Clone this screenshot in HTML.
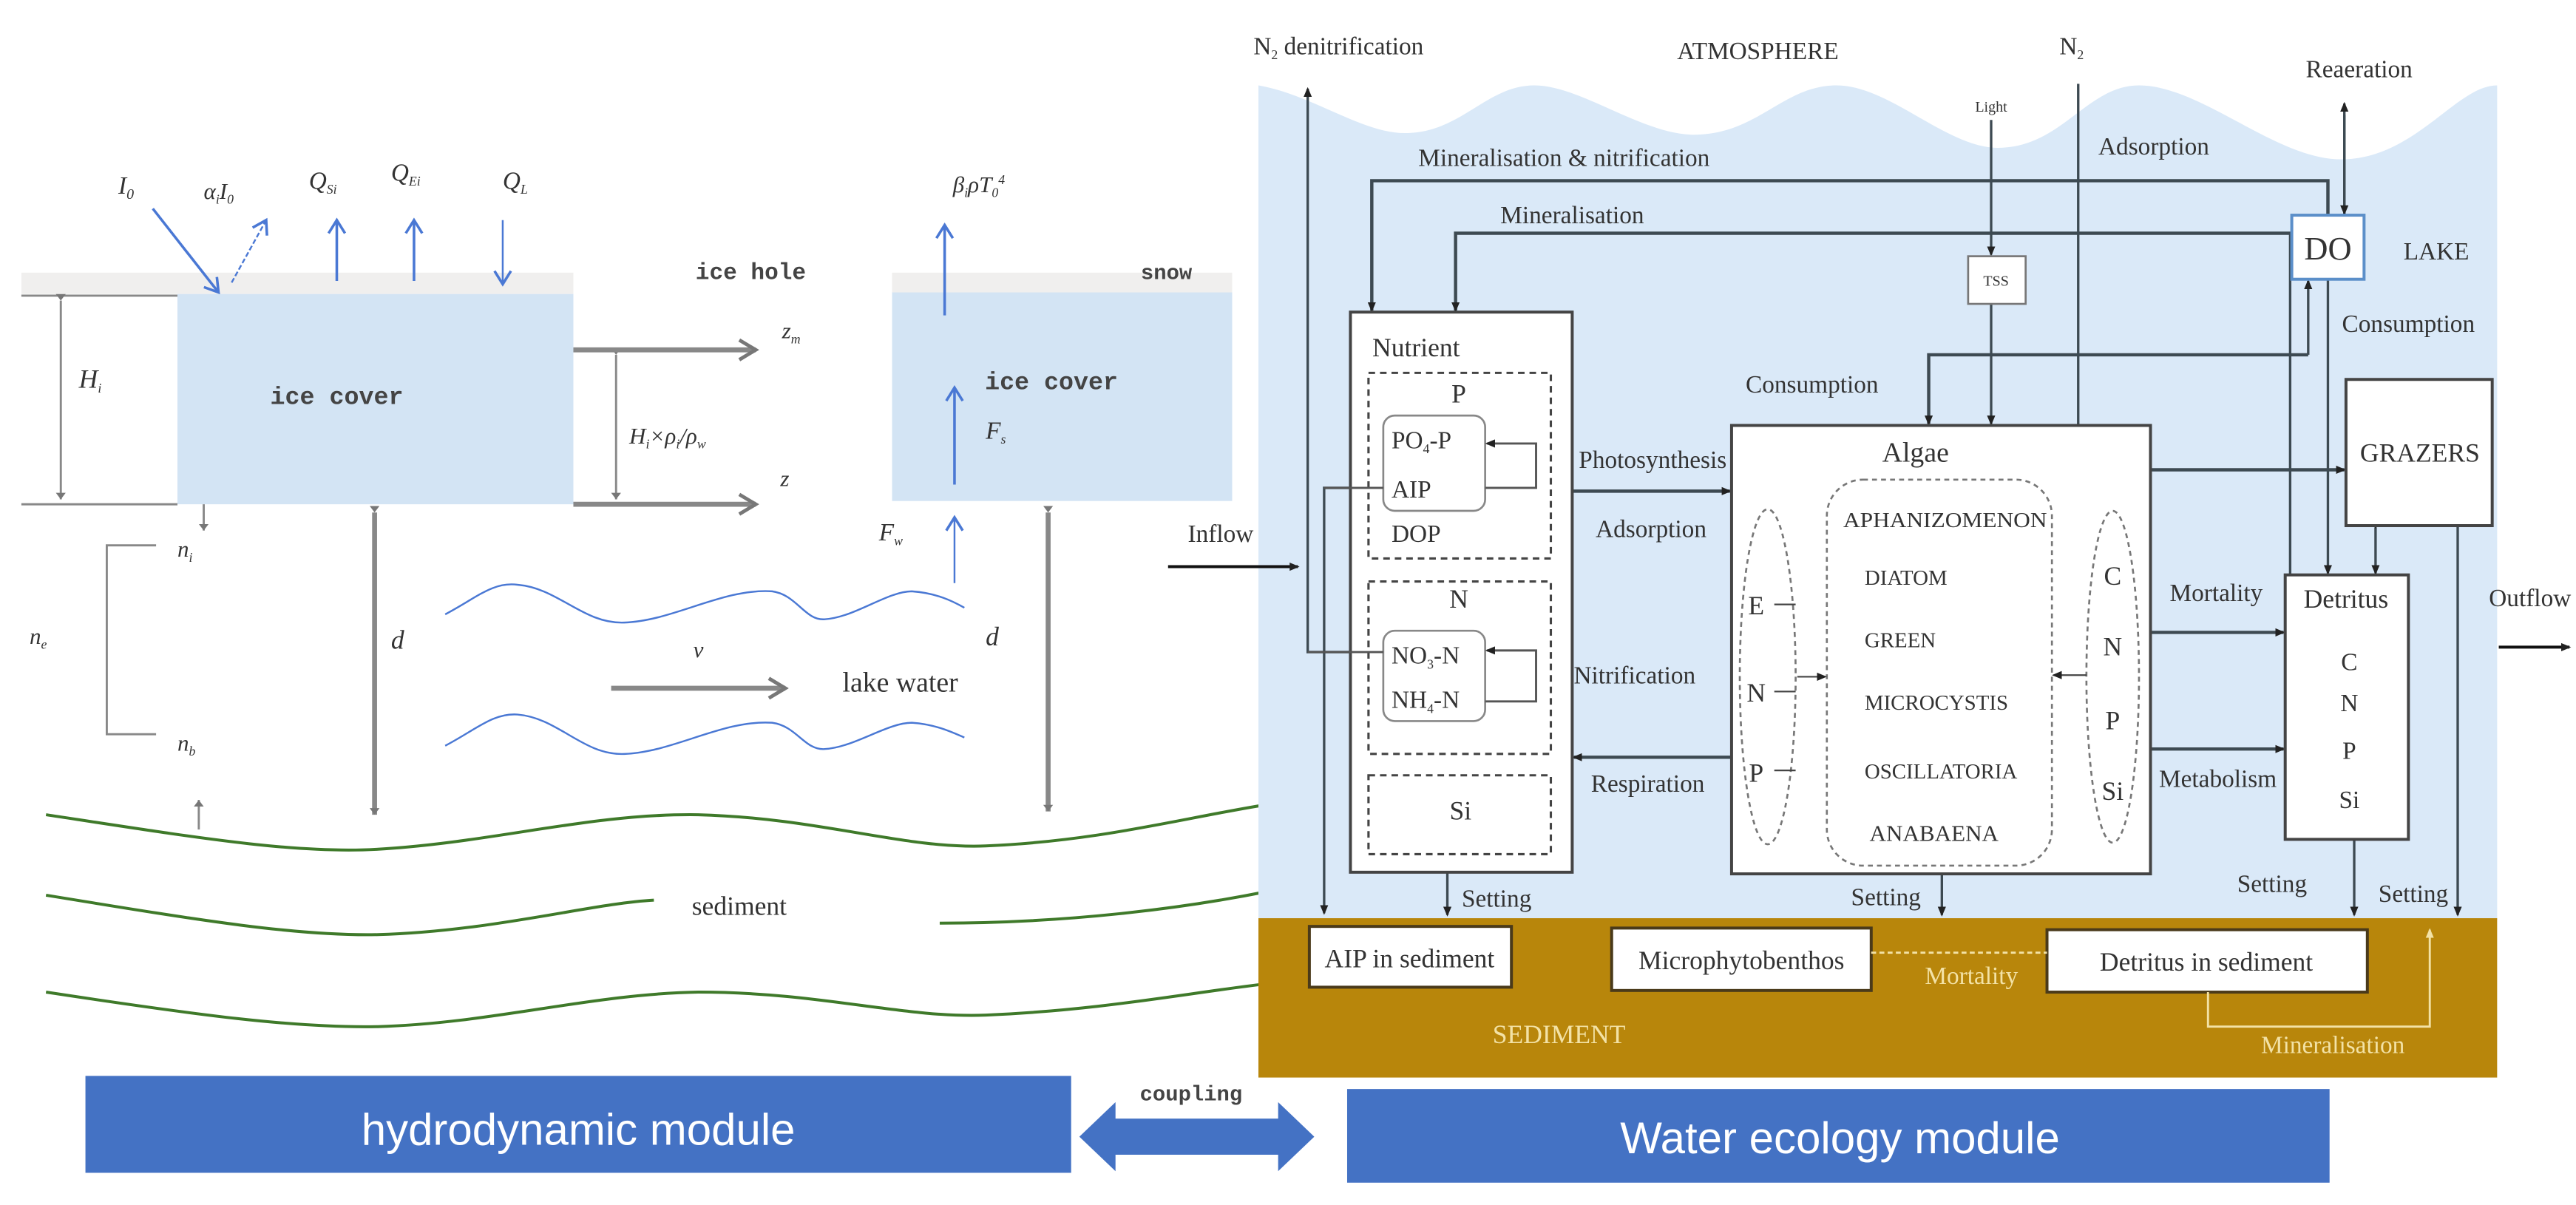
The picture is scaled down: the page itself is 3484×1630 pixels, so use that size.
<!DOCTYPE html>
<html><head><meta charset="utf-8"><style>
html,body{margin:0;padding:0;background:#fff;}
svg{display:block;}
text{font-family:"Liberation Serif",serif;fill:#333;}
.s{font-family:"Liberation Sans",sans-serif;}
.m{font-family:"Liberation Mono",monospace;font-weight:bold;fill:#444;}
.i{font-style:italic;fill:#333;}
</style></head><body>
<svg width="3484" height="1630" viewBox="0 0 1568 733.6" xmlns="http://www.w3.org/2000/svg">
<defs>
<marker id="a" markerWidth="6" markerHeight="6" refX="5" refY="3" orient="auto" markerUnits="userSpaceOnUse"><path d="M0,0.5 L6,3 L0,5.5 z" fill="#222"/></marker>
<marker id="g" markerWidth="14" markerHeight="14" refX="12" refY="7" orient="auto" markerUnits="userSpaceOnUse"><path d="M2,1 L12,7 L2,13" fill="none" stroke="#777" stroke-width="2.2"/></marker>
<marker id="gs" markerWidth="8" markerHeight="8" refX="4" refY="4" orient="auto" markerUnits="userSpaceOnUse"><path d="M0,1 L4,4 L0,7 z" fill="#777"/></marker>
<marker id="b" markerWidth="12" markerHeight="12" refX="10" refY="6" orient="auto" markerUnits="userSpaceOnUse"><path d="M2,1 L10,6 L2,11" fill="none" stroke="#4a78d4" stroke-width="1.6"/></marker>
<marker id="w" markerWidth="6" markerHeight="6" refX="5" refY="3" orient="auto" markerUnits="userSpaceOnUse"><path d="M0,0.5 L6,3 L0,5.5 z" fill="#f3e2a6"/></marker>
</defs>

<!-- LEFT: hydrodynamic -->
<rect x="13" y="166" width="336" height="13" fill="#f0efee"/>
<rect x="543" y="166" width="207" height="12" fill="#f0efee"/>
<rect x="108" y="179" width="241" height="128" fill="#d3e4f4"/>
<rect x="543" y="178" width="207" height="127" fill="#d3e4f4"/>
<g stroke="#888" stroke-width="1.3">
<line x1="13" y1="180" x2="108" y2="180"/><line x1="13" y1="307" x2="108" y2="307"/>
<line x1="37" y1="183" x2="37" y2="304" marker-start="url(#gs)" marker-end="url(#gs)"/>
<line x1="375" y1="216" x2="375" y2="304" marker-start="url(#gs)" marker-end="url(#gs)"/>
<polyline points="95,332 65,332 65,447 95,447" fill="none"/>
<line x1="124" y1="307" x2="124" y2="323" marker-end="url(#gs)"/>
<line x1="121" y1="505" x2="121" y2="487" marker-end="url(#gs)"/>
</g>
<g stroke="#888" stroke-width="3">
<line x1="349" y1="213" x2="460" y2="213" marker-end="url(#g)"/>
<line x1="349" y1="307" x2="460" y2="307" marker-end="url(#g)"/>
<line x1="372" y1="419" x2="478" y2="419" marker-end="url(#g)"/>
<line x1="228" y1="312" x2="228" y2="496" marker-start="url(#gs)" marker-end="url(#gs)"/>
<line x1="638" y1="312" x2="638" y2="494" marker-start="url(#gs)" marker-end="url(#gs)"/>
</g>
<g stroke="#4a78d4" stroke-width="1.6" fill="none">
<line x1="93" y1="127" x2="133" y2="178" marker-end="url(#b)"/>
<line x1="141" y1="172" x2="162" y2="134" stroke-dasharray="3,1.5" stroke-width="1.1" marker-end="url(#b)"/>
<line x1="205" y1="171" x2="205" y2="134" marker-end="url(#b)"/>
<line x1="252" y1="171" x2="252" y2="134" marker-end="url(#b)"/>
<line x1="306" y1="134" x2="306" y2="173" stroke-width="1.1" marker-end="url(#b)"/>
<line x1="575" y1="192" x2="575" y2="137" marker-end="url(#b)"/>
<line x1="581" y1="295" x2="581" y2="236" marker-end="url(#b)"/>
<line x1="581" y1="355" x2="581" y2="315" stroke-width="1.1" marker-end="url(#b)"/>
<path d="M271,374 C290,364 300,354 315,356 C340,358 355,380 380,379 C410,378 440,358 470,360 C485,362 490,378 502,377 C520,376 540,360 555,360 C570,361 580,366 587,370" stroke-width="1.1"/>
<path d="M271,454 C290,444 300,434 315,435 C340,437 355,460 380,459 C410,458 440,438 470,440 C485,442 490,457 502,456 C520,455 540,440 555,440 C570,441 580,446 587,449" stroke-width="1.1"/>
</g>
<g stroke="#3f7a2a" stroke-width="1.8" fill="none">
<path d="M28,496 C120,510 180,520 230,517 C300,513 360,495 425,496 C500,498 550,517 600,515 C670,512 720,498 770,490"/>
<path d="M28,545 C120,560 180,570 230,569 C300,567 360,550 398,548"/>
<path d="M572,562 C650,562 720,553 770,543"/>
<path d="M28,604 C120,618 180,626 230,625 C300,623 360,605 425,604 C500,604 550,620 600,618 C670,615 720,605 770,599"/>
</g>
<text x="72" y="118" class="i" font-size="15">I<tspan font-size="9" dy="3">0</tspan></text>
<text x="124" y="121" class="i" font-size="14">α<tspan font-size="8" dy="3">i</tspan><tspan dy="-3">I</tspan><tspan font-size="8" dy="3">0</tspan></text>
<text x="188" y="115" class="i" font-size="15">Q<tspan font-size="8" dy="3">Si</tspan></text>
<text x="238" y="110" class="i" font-size="15">Q<tspan font-size="8" dy="3">Ei</tspan></text>
<text x="306" y="115" class="i" font-size="15">Q<tspan font-size="8" dy="3">L</tspan></text>
<text x="580" y="117" class="i" font-size="14">β<tspan font-size="8" dy="3">i</tspan><tspan dy="-3">ρT</tspan><tspan font-size="8" dy="3">0</tspan><tspan font-size="8" dy="-8">4</tspan></text>
<text x="48" y="236" class="i" font-size="16">H<tspan font-size="8" dy="3">i</tspan></text>
<text x="205" y="246" class="m" font-size="15" text-anchor="middle">ice cover</text>
<text x="640" y="237" class="m" font-size="15" text-anchor="middle">ice cover</text>
<text x="457" y="170" class="m" font-size="14" text-anchor="middle">ice hole</text>
<text x="710" y="170" class="m" font-size="13" text-anchor="middle">snow</text>
<text x="476" y="206" class="i" font-size="14">z<tspan font-size="8" dy="3">m</tspan></text>
<text x="475" y="296" class="i" font-size="14">z</text>
<text x="383" y="270" class="i" font-size="14">H<tspan font-size="8" dy="3">i</tspan><tspan dy="-3">×ρ</tspan><tspan font-size="8" dy="3">i</tspan><tspan dy="-3">/ρ</tspan><tspan font-size="8" dy="3">w</tspan></text>
<text x="600" y="267" class="i" font-size="15">F<tspan font-size="8" dy="3">s</tspan></text>
<text x="535" y="329" class="i" font-size="15">F<tspan font-size="8" dy="3">w</tspan></text>
<text x="108" y="339" class="i" font-size="14">n<tspan font-size="8" dy="3">i</tspan></text>
<text x="18" y="392" class="i" font-size="14">n<tspan font-size="8" dy="3">e</tspan></text>
<text x="108" y="457" class="i" font-size="14">n<tspan font-size="8" dy="3">b</tspan></text>
<text x="238" y="395" class="i" font-size="16">d</text>
<text x="600" y="393" class="i" font-size="16">d</text>
<text x="422" y="400" class="i" font-size="14">v</text>
<text x="548" y="421" font-size="17" text-anchor="middle">lake water</text>
<text x="450" y="557" font-size="16" text-anchor="middle">sediment</text>

<!-- bars -->
<rect x="52" y="655" width="600" height="59" fill="#4472c4"/>
<text x="352" y="697" class="s" font-size="27" fill="#fff" style="fill:#fff" text-anchor="middle">hydrodynamic module</text>
<rect x="820" y="663" width="598" height="57" fill="#4472c4"/>
<text x="1120" y="702" class="s" font-size="27" style="fill:#fff" text-anchor="middle">Water ecology module</text>
<polygon points="657,692 679,671 679,681 778,681 778,671 800,692 778,713 778,703 679,703 679,713" fill="#4472c4"/>
<text x="725" y="670" class="m" font-size="13" text-anchor="middle">coupling</text>

<!-- RIGHT: lake -->
<path d="M766,52 C800,58 830,82 857,81 C890,80 905,52 934,52 C962,52 1000,82 1031,82 C1070,82 1085,52 1118,52 C1150,52 1185,90 1216,90 C1255,90 1270,52 1302,52 C1340,52 1385,97 1425,97 C1470,97 1495,52 1520,52 L1520,560 L766,560 z" fill="#dae9f8"/>
<rect x="766" y="559" width="754" height="97" fill="#b8860b"/>

<g stroke="#3d4a52" stroke-width="1.5" fill="none">
<!-- denitrification -->
<polyline points="842,397 796,397 796,54" marker-end="url(#a)"/>
<polyline points="842,297 806,297 806,556" marker-end="url(#a)"/>
<line x1="711" y1="345" x2="790" y2="345" stroke="#111" stroke-width="1.8" marker-end="url(#a)"/>
<!-- mineralisation lines -->
<polyline points="1417,131 1417,110 835,110 835,189" stroke-width="2" marker-end="url(#a)"/>
<polyline points="1395,142 886,142 886,189" stroke-width="2" marker-end="url(#a)"/>
<line x1="1394" y1="142" x2="1394" y2="350"/>
<line x1="1417" y1="170" x2="1417" y2="349" marker-end="url(#a)"/>
<line x1="1427" y1="131" x2="1427" y2="63" marker-end="url(#a)"/>
<line x1="1427" y1="70" x2="1427" y2="130" marker-end="url(#a)"/>
<polyline points="1405,216 1174,216 1174,258" stroke-width="2" marker-end="url(#a)"/>
<line x1="1405" y1="216" x2="1405" y2="171" marker-end="url(#a)"/>
<!-- light / N2 -->
<line x1="1212" y1="73" x2="1212" y2="155" marker-end="url(#a)"/>
<line x1="1212" y1="185" x2="1212" y2="258" marker-end="url(#a)"/>
<polyline points="1265,51 1265,331 1252,331" marker-end="url(#a)"/>
<!-- flows -->
<line x1="957" y1="299" x2="1053" y2="299" stroke-width="2" marker-end="url(#a)"/>
<line x1="1054" y1="461" x2="958" y2="461" stroke-width="2" marker-end="url(#a)"/>
<line x1="1309" y1="286" x2="1427" y2="286" stroke-width="2" marker-end="url(#a)"/>
<line x1="1309" y1="385" x2="1390" y2="385" stroke-width="2" marker-end="url(#a)"/>
<line x1="1309" y1="456" x2="1390" y2="456" stroke-width="2" marker-end="url(#a)"/>
<line x1="1446" y1="321" x2="1446" y2="349" marker-start="url(#a)" marker-end="url(#a)"/>
<!-- settling -->
<line x1="881" y1="531" x2="881" y2="557" marker-end="url(#a)"/>
<line x1="1182" y1="532" x2="1182" y2="557" marker-end="url(#a)"/>
<line x1="1433" y1="511" x2="1433" y2="557" marker-end="url(#a)"/>
<line x1="1496" y1="320" x2="1496" y2="557" marker-end="url(#a)"/>
<line x1="1521" y1="394" x2="1564" y2="394" stroke="#111" stroke-width="1.8" marker-end="url(#a)"/>
</g>

<!-- boxes -->
<rect x="822" y="190" width="135" height="341" fill="#fff" stroke="#444" stroke-width="1.8"/>
<g fill="none" stroke="#444" stroke-width="1.4" stroke-dasharray="4,3">
<rect x="833" y="227" width="111" height="113"/>
<rect x="833" y="354" width="111" height="105"/>
<rect x="833" y="472" width="111" height="48"/>
</g>
<rect x="842" y="253" width="62" height="58" rx="7" fill="#fff" stroke="#888" stroke-width="1.2"/>
<rect x="842" y="384" width="62" height="55" rx="7" fill="#fff" stroke="#888" stroke-width="1.2"/>
<g fill="none" stroke="#555" stroke-width="1.3">
<polyline points="904,297 935,297 935,270 905,270" marker-end="url(#a)"/>
<polyline points="904,427 935,427 935,396 905,396" marker-end="url(#a)"/>
<line x1="806" y1="297" x2="842" y2="297"/>
<line x1="796" y1="397" x2="842" y2="397"/>
</g>
<text x="862" y="217" font-size="16" text-anchor="middle">Nutrient</text>
<text x="888" y="245" font-size="16" text-anchor="middle">P</text>
<text x="847" y="273" font-size="15">PO<tspan font-size="8" dy="3">4</tspan><tspan dy="-3">-P</tspan></text>
<text x="847" y="303" font-size="15">AIP</text>
<text x="847" y="330" font-size="15">DOP</text>
<text x="888" y="370" font-size="16" text-anchor="middle">N</text>
<text x="847" y="404" font-size="15">NO<tspan font-size="8" dy="3">3</tspan><tspan dy="-3">-N</tspan></text>
<text x="847" y="431" font-size="15">NH<tspan font-size="8" dy="3">4</tspan><tspan dy="-3">-N</tspan></text>
<text x="889" y="499" font-size="16" text-anchor="middle">Si</text>

<rect x="1054" y="259" width="255" height="273" fill="#fff" stroke="#444" stroke-width="1.8"/>
<g fill="none" stroke="#777" stroke-width="1.2" stroke-dasharray="3,2.5">
<rect x="1112" y="292" width="137" height="235" rx="22"/>
<ellipse cx="1076" cy="412" rx="17" ry="102"/>
<ellipse cx="1286" cy="412" rx="16" ry="101"/>
</g>
<g stroke="#444" stroke-width="1" fill="none">
<line x1="1080" y1="368" x2="1093" y2="368"/><line x1="1080" y1="421" x2="1093" y2="421"/><line x1="1080" y1="469" x2="1093" y2="469"/>
<line x1="1094" y1="412" x2="1111" y2="412" marker-end="url(#a)"/>
<line x1="1270" y1="411" x2="1250" y2="411" marker-end="url(#a)"/>
</g>
<text x="1166" y="281" font-size="17" text-anchor="middle">Algae</text>
<g font-size="13">
<text x="1122" y="321" textLength="124" lengthAdjust="spacingAndGlyphs">APHANIZOMENON</text>
<text x="1135" y="356">DIATOM</text>
<text x="1135" y="394">GREEN</text>
<text x="1135" y="432">MICROCYSTIS</text>
<text x="1135" y="474">OSCILLATORIA</text>
<text x="1138" y="512" font-size="14">ANABAENA</text>
</g>
<g font-size="16" text-anchor="middle">
<text x="1069" y="374">E</text><text x="1069" y="427">N</text><text x="1069" y="476">P</text>
<text x="1286" y="356">C</text><text x="1286" y="399">N</text><text x="1286" y="444">P</text><text x="1286" y="487">Si</text>
</g>

<rect x="1391" y="350" width="75" height="161" fill="#fff" stroke="#444" stroke-width="1.8"/>
<text x="1428" y="370" font-size="16" text-anchor="middle">Detritus</text>
<g font-size="15" text-anchor="middle"><text x="1430" y="408">C</text><text x="1430" y="433">N</text><text x="1430" y="462">P</text><text x="1430" y="492">Si</text></g>
<rect x="1428" y="231" width="89" height="89" fill="#fff" stroke="#444" stroke-width="1.8"/>
<text x="1473" y="281" font-size="16" text-anchor="middle">GRAZERS</text>
<rect x="1395" y="131" width="44" height="39" fill="#fff" stroke="#5b8fc9" stroke-width="1.8"/>
<text x="1417" y="158" font-size="20" text-anchor="middle">DO</text>
<rect x="1198" y="156" width="35" height="29" fill="#fff" stroke="#777" stroke-width="1.2"/>
<text x="1215" y="174" font-size="9" text-anchor="middle">TSS</text>

<!-- sediment -->
<rect x="797" y="564" width="123" height="37" fill="#fff" stroke="#4a3a1a" stroke-width="1.8"/>
<rect x="981" y="565" width="158" height="38" fill="#fff" stroke="#4a3a1a" stroke-width="1.8"/>
<rect x="1246" y="566" width="195" height="38" fill="#fff" stroke="#4a3a1a" stroke-width="1.8"/>
<text x="858" y="589" font-size="16" text-anchor="middle">AIP in sediment</text>
<text x="1060" y="590" font-size="16" text-anchor="middle">Microphytobenthos</text>
<text x="1343" y="591" font-size="16" text-anchor="middle">Detritus in sediment</text>
<line x1="1139" y1="580" x2="1246" y2="580" stroke="#f3e2a6" stroke-width="1.3" stroke-dasharray="3,2"/>
<polyline points="1344,604 1344,625 1479,625 1479,566" fill="none" stroke="#f3e2a6" stroke-width="1.3" marker-end="url(#w)"/>
<text x="1200" y="599" font-size="15" text-anchor="middle" style="fill:#f3e2a6">Mortality</text>
<text x="1420" y="641" font-size="15" text-anchor="middle" style="fill:#f3e2a6">Mineralisation</text>
<text x="949" y="635" font-size="16" text-anchor="middle" style="fill:#f3e2a6">SEDIMENT</text>

<!-- labels -->
<g font-size="15">
<text x="763" y="33">N<tspan font-size="8" dy="3">2</tspan><tspan dy="-3"> denitrification</tspan></text>
<text x="1070" y="36" text-anchor="middle">ATMOSPHERE</text>
<text x="1261" y="33" text-anchor="middle">N<tspan font-size="8" dy="3">2</tspan></text>
<text x="1436" y="47" text-anchor="middle">Reaeration</text>
<text x="1212" y="68" font-size="9" text-anchor="middle">Light</text>
<text x="1311" y="94" text-anchor="middle">Adsorption</text>
<text x="952" y="101" text-anchor="middle">Mineralisation &amp; nitrification</text>
<text x="957" y="136" text-anchor="middle">Mineralisation</text>
<text x="1483" y="158" text-anchor="middle">LAKE</text>
<text x="1466" y="202" text-anchor="middle">Consumption</text>
<text x="1103" y="239" text-anchor="middle">Consumption</text>
<text x="1006" y="285" text-anchor="middle">Photosynthesis</text>
<text x="1005" y="327" text-anchor="middle">Adsorption</text>
<text x="995" y="416" text-anchor="middle">Nitrification</text>
<text x="1003" y="482" text-anchor="middle">Respiration</text>
<text x="1349" y="366" text-anchor="middle">Mortality</text>
<text x="1350" y="479" text-anchor="middle">Metabolism</text>
<text x="743" y="330" text-anchor="middle">Inflow</text>
<text x="1540" y="369" text-anchor="middle">Outflow</text>
<text x="911" y="552" text-anchor="middle">Setting</text>
<text x="1148" y="551" text-anchor="middle">Setting</text>
<text x="1383" y="543" text-anchor="middle">Setting</text>
<text x="1469" y="549" text-anchor="middle">Setting</text>
</g>
</svg>
</body></html>
